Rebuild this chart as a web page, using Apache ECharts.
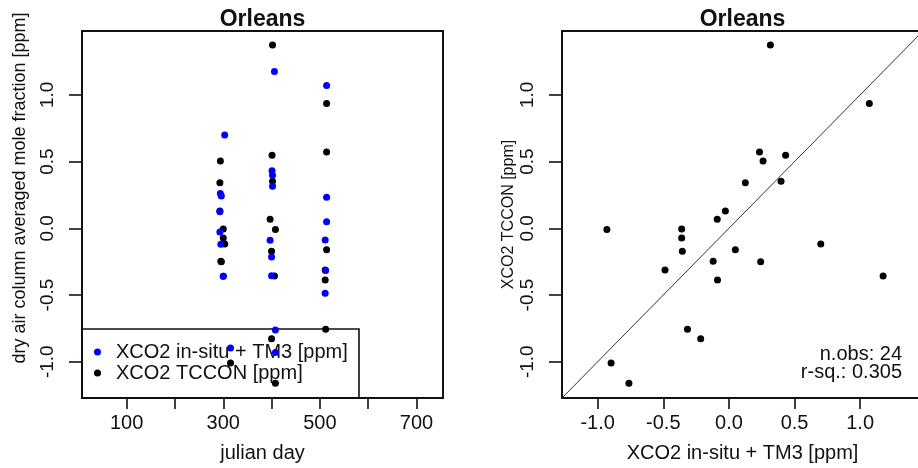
<!DOCTYPE html>
<html><head><meta charset="utf-8">
<script src="https://cdn.jsdelivr.net/npm/echarts@6/dist/echarts.min.js"></script>
<style>html,body{margin:0;padding:0;background:#fff}#c{width:918px;height:468px}</style>
</head><body><div id="c"></div>
<script>
// ---- data ----
const siteName = 'Orleans';
const julianDay = [294, 293, 303, 293, 295, 296, 300, 300, 315,
                   402, 401, 402, 406, 397, 408, 408, 400, 400,
                   514, 514, 514, 511, 512, 511];
const xco2InsituTM3 = [0.26, 0.125, 0.70, -0.027, -0.12, 0.242, -0.36, -0.36, -0.898,
                       0.316, 0.432, 0.397, 1.175, -0.089, -0.93, -0.762, -0.215, -0.355,
                       1.07, 0.233, 0.049, -0.087, -0.316, -0.487];
const xco2TCCON = [0.505, 0.342, -0.117, 0.130, -0.247, -0.25, -0.006, -0.073, -1.01,
                   1.374, 0.548, 0.352, -0.358, 0.068, -0.009, -1.162, -0.828, -0.172,
                   0.935, 0.572, -0.16, -0.388, -0.756, -0.313];
const dayTicks = [100, 200, 300, 400, 500, 600, 700];
const dayTickLabels = [100, 300, 500, 700];
const ppmTicks = [-1.0, -0.5, 0.0, 0.5, 1.0];
const dayRange = [7.5, 755];
const ppmRange = [-1.272, 1.479];
const nameInsitu = 'XCO2 in-situ + TM3 [ppm]';
const nameTccon = 'XCO2 TCCON [ppm]';
const rSquaredText = '0.305';

// ---- chart ----
const FONT = '"Liberation Sans", Arial, Helvetica, sans-serif';
const INK = '#111';
const chart = echarts.init(document.getElementById('c'), null, {renderer: 'canvas'});

function valueAxis(gridIndex, range, tickVals, labelVals, fmt, isY, name, nameOpts) {
  return Object.assign({
    type: 'value', gridIndex, min: range[0], max: range[1],
    splitNumber: 7,
    axisLine: {show: false, onZero: false},
    splitLine: {show: false},
    axisTick: {show: true, customValues: tickVals, length: isY ? 13 : 11,
               lineStyle: {color: INK, width: 1.6}},
    axisLabel: {show: true, customValues: labelVals, formatter: fmt,
                rotate: isY ? 90 : 0, margin: isY ? 25 : 15,
                fontSize: isY ? 19 : 20, fontFamily: FONT, color: INK},
    name: name, nameLocation: 'middle'
  }, nameOpts);
}
const fmt1 = v => Number(v).toFixed(1);
const fmtDay = v => String(Math.round(v));

const pairs = julianDay.map((d, i) => [xco2InsituTM3[i], xco2TCCON[i]]);

chart.setOption({
  animation: false,
  backgroundColor: '#fff',
  title: [
    {text: siteName, left: 262.5, top: 8, textAlign: 'center', padding: 0,
     textStyle: {fontSize: 23, fontWeight: 'bold', fontFamily: FONT, color: INK}},
    {text: siteName, left: 742.5, top: 8, textAlign: 'center', padding: 0,
     textStyle: {fontSize: 23, fontWeight: 'bold', fontFamily: FONT, color: INK}}
  ],
  grid: [
    {left: 82, top: 31, width: 361, height: 367, show: true, borderColor: INK, borderWidth: 2,
     backgroundColor: 'transparent', containLabel: false, outerBoundsMode: 'none'},
    {left: 562, top: 31, width: 361, height: 367, show: true, borderColor: INK, borderWidth: 2,
     backgroundColor: 'transparent', containLabel: false, outerBoundsMode: 'none'}
  ],
  xAxis: [
    valueAxis(0, dayRange, dayTicks, dayTickLabels, fmtDay, false, 'julian day',
      {nameGap: 45, nameTextStyle: {fontSize: 20, fontFamily: FONT, color: INK}}),
    valueAxis(1, ppmRange, ppmTicks, ppmTicks, fmt1, false, nameInsitu,
      {nameGap: 45, nameTextStyle: {fontSize: 20, fontFamily: FONT, color: INK}})
  ],
  yAxis: [
    valueAxis(0, ppmRange, ppmTicks, ppmTicks, fmt1, true, 'dry air column averaged mole fraction [ppm]',
      {nameGap: 53, nameTextStyle: {fontSize: 18, fontFamily: FONT, color: INK, padding: [0, 0, 0, 53]}}),
    valueAxis(1, ppmRange, ppmTicks, ppmTicks, fmt1, true, nameTccon,
      {nameGap: 45, nameTextStyle: {fontSize: 16, fontFamily: FONT, color: INK}})
  ],
  legend: {
    data: [nameInsitu, nameTccon], orient: 'vertical', left: 94, top: 341.5,
    itemWidth: 7, itemHeight: 7, itemGap: 0, icon: 'circle', padding: 0, z: 1,
    selectedMode: false,
    textStyle: {fontSize: 20, fontFamily: FONT, color: INK, lineHeight: 21, padding: [0, 0, 0, 10]}
  },
  graphic: [
    {type: 'rect', z: 1, silent: true,
     shape: {x: 82, y: 329, width: 277, height: 69},
     style: {fill: 'none', stroke: INK, lineWidth: 1.6}},
    {type: 'text', z: 5, silent: true,
     style: {text: 'n.obs: ' + julianDay.length, x: 902, y: 354, align: 'right', verticalAlign: 'middle',
             fontSize: 20, fontFamily: FONT, fill: INK}},
    {type: 'text', z: 5, silent: true,
     style: {text: 'r-sq.: ' + rSquaredText, x: 902, y: 372, align: 'right', verticalAlign: 'middle',
             fontSize: 20, fontFamily: FONT, fill: INK}}
  ],
  series: [
    {name: nameTccon, type: 'scatter', xAxisIndex: 0, yAxisIndex: 0, z: 3,
     symbol: 'circle', symbolSize: 7, itemStyle: {color: '#000', opacity: 1},
     data: julianDay.map((d, i) => [d, xco2TCCON[i]])},
    {name: nameInsitu, type: 'scatter', xAxisIndex: 0, yAxisIndex: 0, z: 4,
     symbol: 'circle', symbolSize: 7, itemStyle: {color: '#0000ff', opacity: 1},
     data: julianDay.map((d, i) => [d, xco2InsituTM3[i]])},
    {name: 'one-to-one', type: 'line', xAxisIndex: 1, yAxisIndex: 1, z: 2,
     symbol: 'none', clip: true, silent: true,
     lineStyle: {color: '#333', width: 1},
     data: [[ppmRange[0], ppmRange[0]], [ppmRange[1], ppmRange[1]]]},
    {name: 'TCCON vs in-situ', type: 'scatter', xAxisIndex: 1, yAxisIndex: 1, z: 3,
     symbol: 'circle', symbolSize: 7, itemStyle: {color: '#000', opacity: 1},
     data: pairs}
  ]
});
</script>
</body></html>
